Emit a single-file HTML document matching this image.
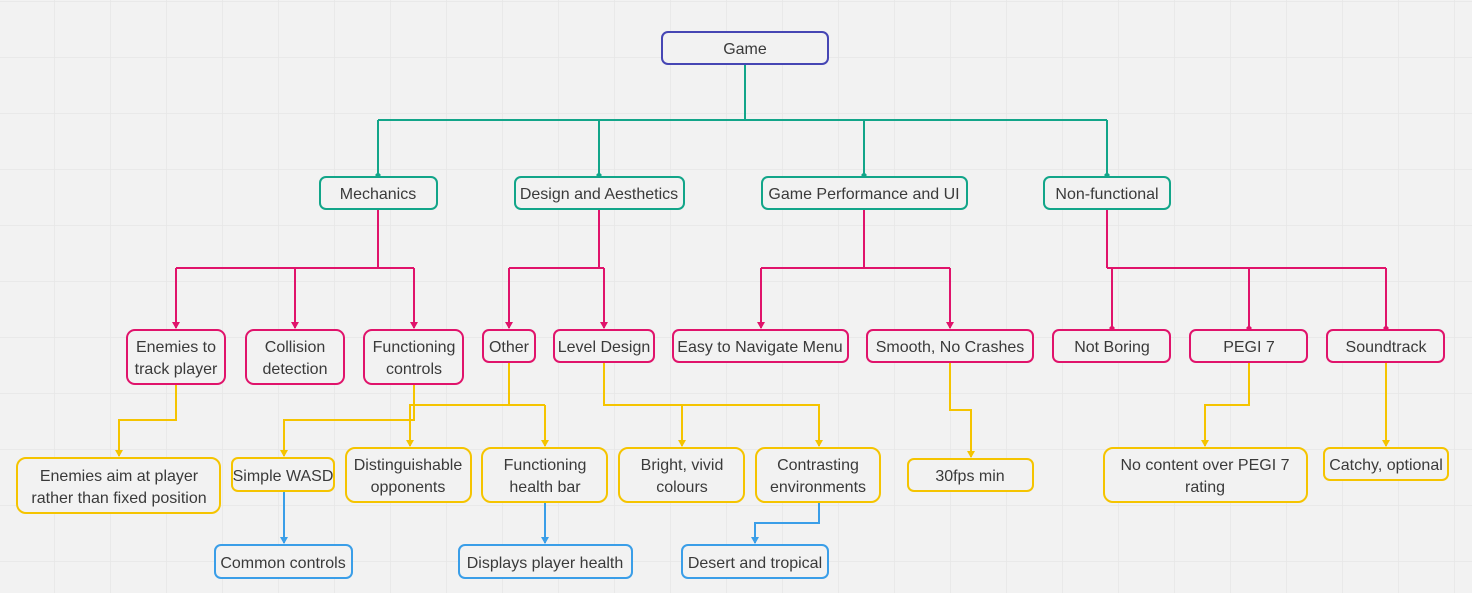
<!DOCTYPE html>
<html><head><meta charset="utf-8"><style>
html,body{margin:0;padding:0;background:#f2f2f2;}
svg{display:block;}
text{font-family:"Liberation Sans","DejaVu Sans",sans-serif;font-size:16px;fill:#3a3a3a;text-anchor:middle;}
</style></head><body>
<svg width="1472" height="593" viewBox="0 0 1472 593" xmlns="http://www.w3.org/2000/svg">
<defs>
<pattern id="g" width="56" height="56" patternUnits="userSpaceOnUse" x="-1" y="1">
<rect width="56" height="56" fill="#f2f2f2"/>
<path d="M56 0V56M0 0H56" stroke="#e6e6e6" stroke-width="1.5" fill="none"/>
</pattern>
<marker id="at" markerWidth="8" markerHeight="8" refX="4" refY="7" orient="auto" markerUnits="userSpaceOnUse"><path d="M4 0L7 4L4 8L1 4Z" fill="#12a589" transform="rotate(-90 4 4)"/></marker>
</defs>
<rect width="1472" height="593" fill="url(#g)"/>
<g fill="none" stroke-width="2">
<!-- teal -->
<g stroke="#12a589">
<path d="M745 64V120M378 120H1107M378 120V175M599 120V175M864 120V175M1107 120V175"/>
</g>
<g fill="#12a589"><path d="M378 172l3 3-3 3-3-3z M599 172l3 3-3 3-3-3z M864 172l3 3-3 3-3-3z M1107 172l3 3-3 3-3-3z"/></g>
<!-- pink -->
<g stroke="#e0136b">
<path d="M378 209V268M176 268H414M176 268V328M295 268V328M414 268V328"/>
<path d="M599 209V268M509 268H604M509 268V328M604 268V328"/>
<path d="M864 209V268M761 268H950M761 268V328M950 268V328"/>
<path d="M1107 209V268M1107 268H1386M1112 268V328M1249 268V328M1386 268V328"/>
</g>
<!-- yellow -->
<g stroke="#f5c400">
<path d="M176 384V420H119V456"/>
<path d="M414 384V420H284V456"/>
<path d="M509 362V405H410V446M545 405V446M410 405H545"/>
<path d="M604 362V405H819V446M682 405V446"/>
<path d="M950 362V410H971V457"/>
<path d="M1249 362V405H1205V446"/>
<path d="M1386 362V446"/>
</g>
<!-- blue -->
<g stroke="#3a9ee8">
<path d="M284 491V543M545 502V543M819 502V523H755V543"/>
</g>
</g>
<!-- arrowheads -->
<g fill="#e0136b">
<path d="M172 322h8l-4 7z M291 322h8l-4 7z M410 322h8l-4 7z M505 322h8l-4 7z M600 322h8l-4 7z M757 322h8l-4 7z M946 322h8l-4 7z"/>
<path d="M1112 325l3 3-3 3-3-3z M1249 325l3 3-3 3-3-3z M1386 325l3 3-3 3-3-3z"/>
</g>
<g fill="#f5c400">
<path d="M115 450h8l-4 7z M280 450h8l-4 7z M406 440h8l-4 7z M541 440h8l-4 7z M678 440h8l-4 7z M815 440h8l-4 7z M967 451h8l-4 7z M1201 440h8l-4 7z M1382 440h8l-4 7z"/>
</g>
<g fill="#3a9ee8">
<path d="M280 537h8l-4 7z M541 537h8l-4 7z M751 537h8l-4 7z"/>
</g>
<!-- nodes -->
<g fill="#f2f2f2" stroke-width="2">
<rect x="662" y="32" width="166" height="32" rx="6" stroke="#4646b4"/>
<g stroke="#12a589">
<rect x="320" y="177" width="117" height="32" rx="6"/>
<rect x="515" y="177" width="169" height="32" rx="6"/>
<rect x="762" y="177" width="205" height="32" rx="6"/>
<rect x="1044" y="177" width="126" height="32" rx="6"/>
</g>
<g stroke="#e0136b">
<rect x="127" y="330" width="98" height="54" rx="8"/>
<rect x="246" y="330" width="98" height="54" rx="8"/>
<rect x="364" y="330" width="99" height="54" rx="8"/>
<rect x="483" y="330" width="52" height="32" rx="6"/>
<rect x="554" y="330" width="100" height="32" rx="6"/>
<rect x="673" y="330" width="175" height="32" rx="6"/>
<rect x="867" y="330" width="166" height="32" rx="6"/>
<rect x="1053" y="330" width="117" height="32" rx="6"/>
<rect x="1190" y="330" width="117" height="32" rx="6"/>
<rect x="1327" y="330" width="117" height="32" rx="6"/>
</g>
<g stroke="#f5c400">
<rect x="17" y="458" width="203" height="55" rx="9"/>
<rect x="232" y="458" width="102" height="33" rx="6"/>
<rect x="346" y="448" width="125" height="54" rx="9"/>
<rect x="482" y="448" width="125" height="54" rx="9"/>
<rect x="619" y="448" width="125" height="54" rx="9"/>
<rect x="756" y="448" width="124" height="54" rx="9"/>
<rect x="908" y="459" width="125" height="32" rx="6"/>
<rect x="1104" y="448" width="203" height="54" rx="9"/>
<rect x="1324" y="448" width="124" height="32" rx="6"/>
</g>
<g stroke="#3a9ee8">
<rect x="215" y="545" width="137" height="33" rx="6"/>
<rect x="459" y="545" width="173" height="33" rx="6"/>
<rect x="682" y="545" width="146" height="33" rx="6"/>
</g>
</g>
<g>
<text x="745" y="54">Game</text>
<text x="378" y="199">Mechanics</text>
<text x="599" y="199">Design and Aesthetics</text>
<text x="864" y="199">Game Performance and UI</text>
<text x="1107" y="199">Non-functional</text>
<text x="176" y="352">Enemies to</text><text x="176" y="374">track player</text>
<text x="295" y="352">Collision</text><text x="295" y="374">detection</text>
<text x="414" y="352">Functioning</text><text x="414" y="374">controls</text>
<text x="509" y="352">Other</text>
<text x="604" y="352">Level Design</text>
<text x="760" y="352">Easy to Navigate Menu</text>
<text x="950" y="352">Smooth, No Crashes</text>
<text x="1112" y="352">Not Boring</text>
<text x="1249" y="352">PEGI 7</text>
<text x="1386" y="352">Soundtrack</text>
<text x="119" y="481">Enemies aim at player</text><text x="119" y="503">rather than fixed position</text>
<text x="283" y="481">Simple WASD</text>
<text x="408" y="470">Distinguishable</text><text x="408" y="492">opponents</text>
<text x="545" y="470">Functioning</text><text x="545" y="492">health bar</text>
<text x="682" y="470">Bright, vivid</text><text x="682" y="492">colours</text>
<text x="818" y="470">Contrasting</text><text x="818" y="492">environments</text>
<text x="970" y="481">30fps min</text>
<text x="1205" y="470">No content over PEGI 7</text><text x="1205" y="492">rating</text>
<text x="1386" y="470">Catchy, optional</text>
<text x="283" y="568">Common controls</text>
<text x="545" y="568">Displays player health</text>
<text x="755" y="568">Desert and tropical</text>
</g>
</svg>
</body></html>
